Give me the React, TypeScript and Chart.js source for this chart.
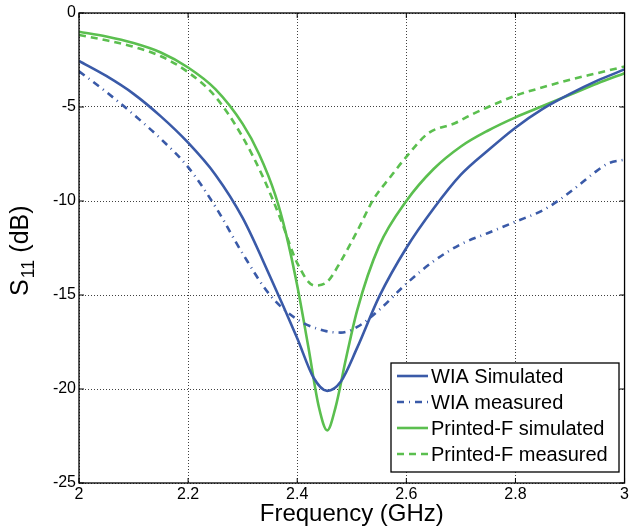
import React, { useEffect, useRef } from "react";
import { Chart, registerables } from "chart.js";

Chart.register(...registerables);

// ---- Data ----
const wiaSimFreq = [2.0, 2.05, 2.1, 2.15, 2.2, 2.25, 2.3, 2.35, 2.4, 2.43, 2.455, 2.48, 2.51, 2.55, 2.6, 2.65, 2.7, 2.75, 2.8, 2.85, 2.9, 2.95, 3.0];
const wiaSimS11 = [-2.55, -3.35, -4.3, -5.5, -6.9, -8.6, -10.9, -14.0, -17.3, -19.4, -20.1, -19.6, -17.8, -15.1, -12.5, -10.4, -8.6, -7.3, -6.1, -5.1, -4.3, -3.6, -3.0];

const wiaMeasFreq = [2.0, 2.05, 2.1, 2.15, 2.2, 2.25, 2.3, 2.35, 2.4, 2.45, 2.48, 2.51, 2.55, 2.6, 2.65, 2.7, 2.75, 2.8, 2.85, 2.88, 2.91, 2.94, 2.97, 3.0];
const wiaMeasS11 = [-3.1, -4.2, -5.4, -6.7, -8.2, -10.3, -12.8, -15.0, -16.3, -16.9, -17.0, -16.7, -15.8, -14.4, -13.2, -12.3, -11.7, -11.1, -10.5, -9.95, -9.3, -8.6, -8.0, -7.8];

const pfSimFreq = [2.0, 2.05, 2.1, 2.15, 2.2, 2.25, 2.3, 2.33, 2.36, 2.38, 2.4, 2.42, 2.44, 2.455, 2.47, 2.49, 2.51, 2.55, 2.6, 2.65, 2.7, 2.75, 2.8, 2.85, 2.9, 2.95, 3.0];
const pfSimS11 = [-1.0, -1.25, -1.6, -2.1, -2.9, -4.05, -5.9, -7.5, -9.7, -11.8, -14.5, -17.7, -21.0, -22.2, -21.0, -18.3, -15.8, -12.4, -10.0, -8.3, -7.1, -6.25, -5.55, -4.95, -4.35, -3.75, -3.2];

const pfMeasFreq = [2.0, 2.05, 2.1, 2.15, 2.2, 2.25, 2.3, 2.34, 2.37, 2.4, 2.432, 2.455, 2.48, 2.51, 2.54, 2.57, 2.6, 2.64, 2.69, 2.72, 2.75, 2.8, 2.85, 2.9, 2.95, 3.0];
const pfMeasS11 = [-1.17, -1.45, -1.8, -2.3, -3.15, -4.45, -6.6, -8.9, -11.0, -13.3, -14.5, -14.3, -13.2, -11.6, -9.9, -8.75, -7.65, -6.4, -5.85, -5.4, -5.0, -4.4, -3.95, -3.55, -3.2, -2.85];

const seriesLabels = ["WIA Simulated", "WIA measured", "Printed-F simulated", "Printed-F measured"];
const xTitle = "Frequency (GHz)";
const xMin = 2, xMax = 3, xStep = 0.2;
const yMin = -25, yMax = 0, yStep = 5;

const BLUE = "#3a5aa8";
const GREEN = "#5bbf4f";
const FONT = "'Liberation Sans', Arial, Helvetica, sans-serif";

const pts = (xs: number[], ys: number[]) => xs.map((x, i) => ({ x, y: ys[i] }));
const fmt = (v: any) => String(Math.round(Number(v) * 10) / 10);

const decorPlugin = {
  id: "decor",
  afterDatasetsDraw(chart: any) {
    const { ctx, chartArea: a, scales } = chart;
    ctx.save();
    ctx.strokeStyle = "#000";
    ctx.lineWidth = 1.3;
    ctx.setLineDash([]);
    ctx.strokeRect(a.left, a.top, a.right - a.left, a.bottom - a.top);
    const tl = 5;
    ctx.lineWidth = 1;
    ctx.beginPath();
    scales.x.ticks.forEach((t: any) => {
      const px = scales.x.getPixelForValue(t.value);
      ctx.moveTo(px, a.bottom); ctx.lineTo(px, a.bottom - tl);
      ctx.moveTo(px, a.top); ctx.lineTo(px, a.top + tl);
    });
    scales.y.ticks.forEach((t: any) => {
      const py = scales.y.getPixelForValue(t.value);
      ctx.moveTo(a.left, py); ctx.lineTo(a.left + tl, py);
      ctx.moveTo(a.right, py); ctx.lineTo(a.right - tl, py);
    });
    ctx.stroke();
    ctx.restore();
  },
  afterDraw(chart: any) {
    const { ctx, chartArea: a } = chart;
    ctx.save();
    // X title
    ctx.fillStyle = "#000";
    ctx.font = `24px ${FONT}`;
    ctx.textAlign = "center";
    ctx.textBaseline = "alphabetic";
    ctx.fillText(xTitle, (a.left + a.right) / 2, 521);
    // Y title with subscript
    ctx.save();
    ctx.translate(28, 296);
    ctx.rotate(-Math.PI / 2);
    ctx.textAlign = "left";
    ctx.font = `25px ${FONT}`;
    ctx.fillText("S", 0, 0);
    let w = ctx.measureText("S").width + 1;
    ctx.font = `18px ${FONT}`;
    ctx.fillText("11", w, 6);
    w += ctx.measureText("11").width;
    ctx.font = `25px ${FONT}`;
    ctx.fillText(" (dB)", w, 0);
    ctx.restore();

    // Legend
    const bx = 391, by = 363, bw = 228, bh = 109;
    ctx.fillStyle = "#fff";
    ctx.fillRect(bx, by, bw, bh);
    ctx.strokeStyle = "#000";
    ctx.lineWidth = 1.3;
    ctx.setLineDash([]);
    ctx.strokeRect(bx, by, bw, bh);
    const rows = [376, 402, 428, 454];
    chart.data.datasets.forEach((ds: any, i: number) => {
      const y = rows[i];
      ctx.beginPath();
      ctx.strokeStyle = ds.borderColor;
      ctx.lineWidth = ds.borderWidth;
      ctx.setLineDash(ds.borderDash || []);
      ctx.moveTo(397, y);
      ctx.lineTo(428, y);
      ctx.stroke();
      ctx.setLineDash([]);
      ctx.fillStyle = "#000";
      ctx.font = `20px ${FONT}`;
      ctx.textAlign = "left";
      ctx.textBaseline = "middle";
      ctx.fillText(ds.label, 431, y + 1);
    });
    ctx.restore();
  },
};

export default function App() {
  const ref = useRef<HTMLCanvasElement>(null);
  useEffect(() => {
    if (!ref.current) return;
    const chart = new Chart(ref.current, {
      type: "line",
      data: {
        datasets: [
          { label: seriesLabels[0], data: pts(wiaSimFreq, wiaSimS11), borderColor: BLUE, borderWidth: 2.6, borderDash: [] },
          { label: seriesLabels[1], data: pts(wiaMeasFreq, wiaMeasS11), borderColor: BLUE, borderWidth: 2.6, borderDash: [7, 5, 1, 5] },
          { label: seriesLabels[2], data: pts(pfSimFreq, pfSimS11), borderColor: GREEN, borderWidth: 2.6, borderDash: [] },
          { label: seriesLabels[3], data: pts(pfMeasFreq, pfMeasS11), borderColor: GREEN, borderWidth: 2.6, borderDash: [7, 5] },
        ] as any,
      },
      options: {
        animation: false,
        responsive: false,
        maintainAspectRatio: false,
        layout: { padding: { top: 13, right: 5, left: 0, bottom: 0 } },
        elements: { point: { radius: 0 }, line: { cubicInterpolationMode: "monotone", fill: false } },
        plugins: { legend: { display: false }, tooltip: { enabled: false }, title: { display: false } },
        scales: {
          x: {
            type: "linear",
            min: xMin,
            max: xMax,
            afterFit: (s: any) => { s.height = 46; },
            ticks: { stepSize: xStep, color: "#000", font: { family: FONT, size: 16 }, padding: 2, maxRotation: 0, callback: fmt },
            grid: { color: "rgba(0,0,0,0.75)", lineWidth: 1, drawTicks: false },
            border: { display: false, dash: [1, 2] },
          },
          y: {
            type: "linear",
            min: yMin,
            max: yMax,
            afterFit: (s: any) => { s.width = 79; },
            ticks: { stepSize: yStep, color: "#000", font: { family: FONT, size: 16 }, padding: 3, callback: fmt },
            grid: { color: "rgba(0,0,0,0.75)", lineWidth: 1, drawTicks: false },
            border: { display: false, dash: [1, 2] },
          },
        },
      },
      plugins: [decorPlugin],
    } as any);
    return () => chart.destroy();
  }, []);
  return (
    <div style={{ position: "fixed", left: 0, top: 0, width: 631, height: 529, background: "#fff" }}>
      <canvas ref={ref} width={631} height={529} style={{ display: "block" }} />
    </div>
  );
}
